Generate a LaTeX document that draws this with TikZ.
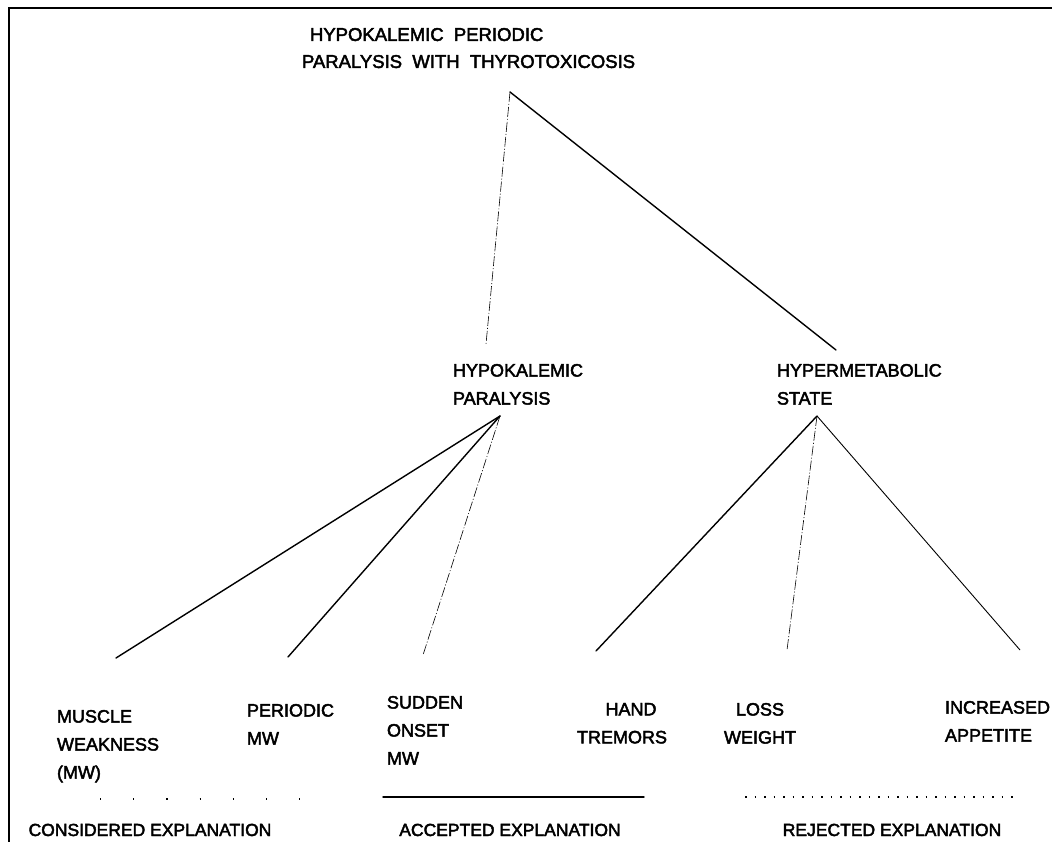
\documentclass[tikz,border=0pt]{standalone}
\usepackage{fontspec}
\setmainfont{Liberation Sans}
\newfontfamily\scanfont[FakeBold=2.5]{Liberation Sans}

\tikzset{
  lbl/.style={inner sep=0pt, outer sep=0pt, align=left, anchor=north west,
    font=\scanfont\fontsize{18}{28}\selectfont},
  accepted/.style={draw=black, line width=1.4pt, line cap=round},
  considered/.style={draw=black, line width=0.6pt,
    dash pattern=on 10pt off 2pt on 1pt off 2pt},
  weak/.style={draw=black, line width=0.9pt},
  consdots/.style={draw=black, line width=1.2pt, dash pattern=on 1.2pt off 32pt},
  rejdots/.style={draw=black, line width=1.2pt, dash pattern=on 1.5pt off 8pt}
}

\begin{document}
\begin{tikzpicture}[x=1pt,y=-1pt]
\path[use as bounding box,fill=white] (0,0) rectangle (1052,842);

% frame
\draw[line width=1.2pt] (9,842) -- (9,8) -- (1052,8);

% title
\node[lbl, font=\scanfont\fontsize{18.5}{27}\selectfont] (title) at (302,28)
  {\hspace*{8pt}HYPOKALEMIC\ \ PERIODIC\\PARALYSIS\ \ WITH\ \ THYROTOXICOSIS};

% middle level
\node[lbl] (hypo) at (453,364) {HYPOKALEMIC\\PARALYSIS};
\node[lbl] (hyper) at (777,364) {HYPERMETABOLIC\\STATE};

% leaves
\node[lbl] (muscle) at (57,710) {MUSCLE\\WEAKNESS\\(MW)};
\node[lbl] (periodic) at (247,704) {PERIODIC\\MW};
\node[lbl] (sudden) at (387,696) {SUDDEN\\ONSET\\MW};
\node[lbl, align=center, anchor=north] (hand) at (622,703) {\hspace*{18pt}HAND\\TREMORS};
\node[lbl, align=center, anchor=north] (loss) at (760,703) {LOSS\\WEIGHT};
\node[lbl] (appetite) at (945,701) {INCREASED\\APPETITE};

% connector ends
\coordinate (title-b) at (510,92);
\coordinate (hypo-t) at (486,344);
\coordinate (hyper-t) at (836,350);
\coordinate (hypo-b) at (500,416);
\coordinate (hyper-b) at (817,416);
\coordinate (muscle-t) at (116,658);
\coordinate (periodic-t) at (288,657);
\coordinate (sudden-t) at (423,655);
\coordinate (hand-t) at (596,651);
\coordinate (loss-t) at (787,650);
\coordinate (appetite-t) at (1020,650);

\draw[considered] (title-b) -- (hypo-t);
\draw[accepted] (title-b) -- (hyper-t);

\draw[accepted] (hypo-b) -- (muscle-t);
\draw[accepted] (hypo-b) -- (periodic-t);
\draw[considered] (hypo-b) -- (sudden-t);

\draw[accepted] (hyper-b) -- (hand-t);
\draw[considered] (hyper-b) -- (loss-t);
\draw[weak] (hyper-b) -- (appetite-t);

% legend
\node[lbl, anchor=base, font=\scanfont\fontsize{17.5}{20}\selectfont] (consid) at (150,836) {CONSIDERED EXPLANATION};
\node[lbl, anchor=base, font=\scanfont\fontsize{17.5}{20}\selectfont] (accept) at (510,836) {ACCEPTED EXPLANATION};
\node[lbl, anchor=base, font=\scanfont\fontsize{17.5}{20}\selectfont] (reject) at (892,836) {REJECTED EXPLANATION};

\draw[consdots] (100,799) -- (300,799);
\draw[accepted] (383,797) -- (644,797);
\draw[rejdots] (745,797) -- (1015,797);
\end{tikzpicture}
\end{document}
